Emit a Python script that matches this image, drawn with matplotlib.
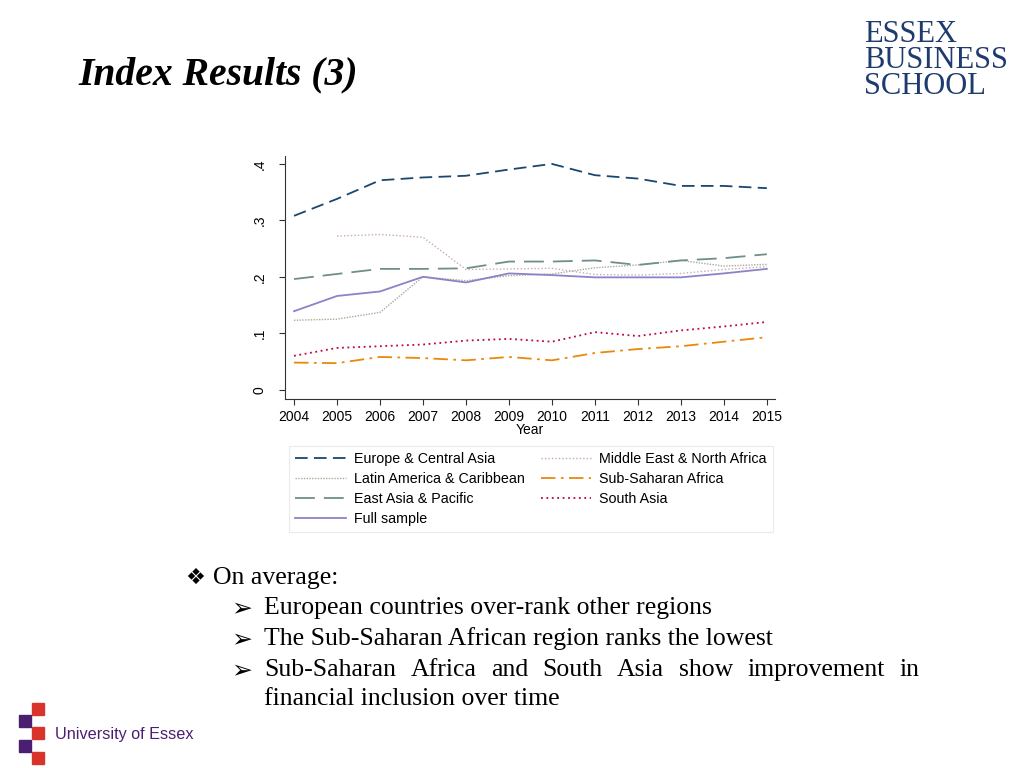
import numpy as np
import matplotlib
matplotlib.use("Agg")
import matplotlib.pyplot as plt
from matplotlib.patches import Rectangle

# --- data ---
years = list(range(2004, 2016))
europe = [0.308, 0.338, 0.371, 0.376, 0.379, 0.390, 0.400, 0.380, 0.374, 0.361, 0.361, 0.357]
mena = [np.nan, 0.272, 0.275, 0.270, 0.213, 0.214, 0.215, 0.204, 0.203, 0.206, 0.213, 0.218]
latin = [0.123, 0.125, 0.137, 0.200, 0.193, 0.202, 0.205, 0.216, 0.221, 0.229, 0.219, 0.222]
ssa = [0.048, 0.047, 0.058, 0.056, 0.052, 0.058, 0.052, 0.065, 0.072, 0.077, 0.085, 0.093]
east_asia = [0.196, 0.205, 0.214, 0.214, 0.215, 0.227, 0.227, 0.229, 0.221, 0.229, 0.233, 0.240]
south_asia = [0.060, 0.074, 0.077, 0.080, 0.087, 0.090, 0.085, 0.102, 0.095, 0.105, 0.112, 0.120]
full = [0.139, 0.166, 0.174, 0.200, 0.190, 0.206, 0.203, 0.199, 0.199, 0.199, 0.206, 0.214]

yticks = [0, 0.1, 0.2, 0.3, 0.4]
ytick_labels = ["0", ".1", ".2", ".3", ".4"]

bullets = ["European countries over-rank other regions",
           "The Sub-Saharan African region ranks the lowest"]

fig = plt.figure(figsize=(10.24, 7.68), dpi=100)
fig.patch.set_facecolor("white")

# title + logos
fig.text(78 / 1024, 1 - 75 / 768, "Index Results (3)", family="Liberation Serif",
         style="italic", weight="bold", fontsize=28.5, va="center", ha="left")
for i, w in enumerate(["ESSEX", "BUSINESS", "SCHOOL"]):
    fig.text(864 / 1024, 1 - (34 + i * 26.5) / 768, w, family="Liberation Serif",
             fontsize=22, color="#1d3b6e", va="center", ha="left")

ax = fig.add_axes([285 / 1024, 1 - 399 / 768, 490 / 1024, 243 / 768])
ax.plot(years, europe, color="#1a476f", lw=1.3, ls=(0, (7, 3.5)), label="Europe & Central Asia")
ax.plot(years, latin, color="#a8ac98", lw=1.0, ls=(0, (1, 1)), label="Latin America & Caribbean")
ax.plot(years, east_asia, color="#6f8f86", lw=1.3, ls=(0, (11, 5)), label="East Asia & Pacific")
ax.plot(years, full, color="#8c82c8", lw=1.3, ls="-", label="Full sample")
ax.plot(years, mena, color="#c9aab2", lw=1.0, ls=(0, (1, 1.5)), label="Middle East & North Africa")
ax.plot(years, ssa, color="#e8890c", lw=1.3, ls=(0, (8, 3, 1.5, 3)), label="Sub-Saharan Africa")
ax.plot(years, south_asia, color="#c10534", lw=1.3, ls=(0, (1, 2)), label="South Asia")

ax.set_xlim(2003.79, 2015.19)
ax.set_ylim(-0.0165, 0.414)
ax.set_xticks(years)
ax.set_xticklabels([str(y) for y in years], family="Liberation Sans", fontsize=10)
ax.set_yticks(yticks)
ax.set_yticklabels(ytick_labels, family="Liberation Sans", fontsize=10, rotation=90, va="center")
ax.tick_params(axis="both", direction="out", length=4, width=0.8, color="#333333", pad=4)
ax.tick_params(axis="y", pad=9)
ax.set_xlabel("Year", family="Liberation Sans", fontsize=10, labelpad=-1)
for s in ["top", "right"]:
    ax.spines[s].set_visible(False)
for s in ["left", "bottom"]:
    ax.spines[s].set_color("#333333")
    ax.spines[s].set_linewidth(0.8)

leg = ax.legend(ncol=2, loc="upper center", bbox_to_anchor=(531 / 1024, 1 - 446 / 768),
                bbox_transform=fig.transFigure, borderaxespad=0, fancybox=False,
                prop={"family": "Liberation Sans", "size": 10.3}, handlelength=3.56,
                handletextpad=0.56, labelspacing=0.4, columnspacing=1.1, borderpad=0.45)
leg.get_frame().set_edgecolor("#e6e6e6")
leg.get_frame().set_linewidth(0.8)

# bullet text
serif = ["Liberation Serif", "DejaVu Sans"]
fsz = 18.5
fig.text(185 / 1024, 1 - 578 / 768, "\u2756", family=["DejaVu Sans"], fontsize=16,
         va="center", ha="left")
fig.text(213 / 1024, 1 - 578 / 768, "On average:", family=serif, fontsize=fsz,
         va="center", ha="left")
for i, b in enumerate(bullets):
    y = 1 - (608 + 31 * i) / 768
    fig.text(231 / 1024, y, "\u27a2", family=["DejaVu Sans"], fontsize=18, va="center", ha="left")
    fig.text(264 / 1024, y, b, family=serif, fontsize=fsz, va="center", ha="left")
y = 1 - 670 / 768
fig.text(231 / 1024, y, "\u27a2", family=["DejaVu Sans"], fontsize=18, va="center", ha="left")
words = ["Sub-Saharan", "Africa", "and", "South", "Asia", "show", "improvement", "in"]
# justified line: spread words between 264 and 919 px
r = fig.canvas.get_renderer()
tmp = [fig.text(0, 0, w, family=serif, fontsize=fsz) for w in words]
widths = [t.get_window_extent(r).width for t in tmp]
for t in tmp:
    t.remove()
gap = (919 - 264 - sum(widths)) / (len(words) - 1)
x = 264
for w, wd in zip(words, widths):
    fig.text(x / 1024, y, w, family=serif, fontsize=fsz, va="baseline", ha="left",
             transform=fig.transFigure).set_y(y - 6 / 768)
    x += wd + gap
fig.text(264 / 1024, 1 - 699 / 768, "financial inclusion over time", family=serif,
         fontsize=fsz, va="center", ha="left")

# University of Essex logo (decorative squares)
sq = [(32, 703, "#d9342b"), (19, 715, "#4b1f6f"), (32, 727, "#d9342b"),
      (19, 740, "#4b1f6f"), (32, 752, "#d9342b")]
for sx, sy, c in sq:
    fig.patches.append(Rectangle((sx / 1024, 1 - (sy + 12) / 768), 12 / 1024, 12 / 768,
                                 transform=fig.transFigure, color=c, figure=fig))
fig.text(55 / 1024, 1 - 734 / 768, "University of Essex", family="Liberation Sans",
         fontsize=11.7, color="#4b1f6f", va="center", ha="left")

fig.savefig("out.png", dpi=100)
